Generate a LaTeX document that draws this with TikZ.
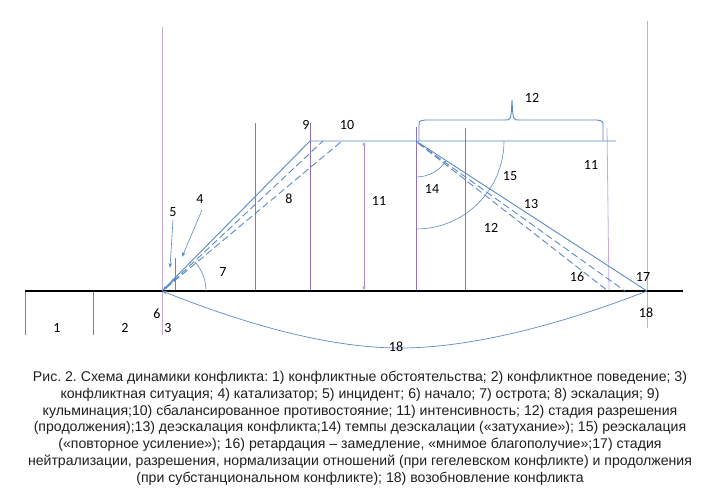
\documentclass[tikz,border=0pt]{standalone}
\usepackage{fontspec}
\setmainfont{Liberation Sans}
\newfontfamily\numfont{Carlito}
\usetikzlibrary{arrows.meta}
\definecolor{lblue}{HTML}{5A8AC6}
\definecolor{lpurp}{HTML}{8F72BC}
\definecolor{llav}{HTML}{C2A9E0}
\frenchspacing
\begin{document}
\begin{tikzpicture}[x=1pt,y=-1pt,
  blueln/.style={draw=lblue,line width=0.9pt},
  bluedash/.style={draw=lblue,line width=0.9pt,dash pattern=on 7pt off 3.5pt},
  purpln/.style={draw=lpurp,line width=0.65pt},
  lavln/.style={draw=llav,line width=0.8pt},
  num/.style={font=\numfont\fontsize{14}{16}\selectfont,text=black,inner sep=0pt},
  captxt/.style={font=\fontsize{14.1}{16}\selectfont,text=black!88,inner sep=0pt},
  tipa/.style={-{Stealth[length=5pt,width=3.5pt]}}
]
\useasboundingbox (0,0) rectangle (705,501);
% key coordinates
\coordinate (O) at (162,291);
\coordinate (A) at (310,141);
\coordinate (P) at (416,141);
\coordinate (E) at (647,291);
\coordinate (Pend) at (616,141);
\coordinate (D1) at (323,141);
\coordinate (D2) at (342,141);
\coordinate (Ds) at (166,288);
\coordinate (Q1) at (625,291);
\coordinate (Q2) at (608,291);
\coordinate (Qs) at (418,143);
% vertical guide lines
\draw[purpln] (25,291) -- (25,335);
\draw[purpln] (93,291) -- (93,335);
\draw[lavln] (162,27) -- (162,335);
\draw[purpln] (175,258) -- (175,291);
\draw[purpln] (255,123) -- (255,291);
\draw[purpln] (310,123) -- (310,291);
\draw[purpln] (416,127) -- (416,291);
\draw[purpln] (465,128) -- (465,291);
\draw[lavln] (607,128) -- (609,291);
\draw[lavln] (647,21) -- (647,328);
% intensity arrow 11
\draw[draw=lpurp!80,line width=0.6pt,{Stealth[length=4pt,width=3pt]}-{Stealth[length=4pt,width=3pt]}] (364,142) -- (364,290);
% baseline
\draw[black,line width=1.8pt] (25,291) -- (683,291);
% rising lines
\draw[blueln] (O) -- (A) -- (Pend);
\draw[bluedash] (Ds) -- (D1);
\draw[bluedash] (Ds) -- (D2);
% falling lines
\draw[blueln] (P) -- (E);
\draw[bluedash] (Qs) -- (Q1);
\draw[bluedash] (Qs) -- (Q2);
% start arrow
\draw[draw=lblue,line width=1.2pt,{Stealth[length=4pt,width=3.5pt]}-{Stealth[length=4pt,width=3.5pt]}] (163,290) -- (176,278);
% arrows 4, 5
\draw[draw=lblue,line width=0.6pt,tipa] (173,220) -- (170,268);
\draw[draw=lblue,line width=0.6pt,tipa] (202,210) -- (182,257);
% angle 7
\draw[draw=lblue,line width=0.6pt] (206,291) arc[start angle=0,end angle=-42,radius=44];
% arcs 14, 15
\draw[draw=lblue,line width=0.6pt] (416,177) arc[start angle=90,end angle=33,radius=36];
\draw[draw=lblue,line width=0.6pt] (416,229) arc[start angle=90,end angle=0,radius=88];
% brace 12
\draw[draw=lblue,line width=0.9pt] (419,141) -- (419,126) .. controls (419,121) .. (425,120)
  -- (505,120) .. controls (511,120) .. (512,100) .. controls (513,120) .. (519,120)
  -- (597,120) .. controls (603,121) .. (603,126) -- (603,141);
% arc 18
\draw[draw=lblue,line width=0.7pt,tipa] (E) .. controls (560,325) and (470,348) .. (400,348)
  .. controls (320,348) and (230,318) .. (O);
% labels
\node[num] (l1) at (57,328) {1};
\node[num] (l2) at (125,328) {2};
\node[num] (l6) at (157,314) {6};
\node[num] (l3) at (168,328) {3};
\node[num] (l5) at (173,212) {5};
\node[num] (l4) at (200,199) {4};
\node[num] (l7) at (223,272) {7};
\node[num] (l8) at (289,199) {8};
\node[num] (l9) at (306,125) {9};
\node[num] (l10) at (347,125) {10};
\node[num] (l11a) at (379,201) {11};
\node[num] (l14) at (432,189) {14};
\node[num] (l15) at (510,176) {15};
\node[num] (l13) at (531,204) {13};
\node[num] (l12a) at (491,228) {12};
\node[num] (l11b) at (591,165) {11};
\node[num] (l12b) at (532,98) {12};
\node[num] (l16) at (577,277) {16};
\node[num] (l17) at (643,277) {17};
\node[num] (l18a) at (646,313) {18};
\node[num] (l18b) at (396,347) {18};
% caption
\node[captxt] (c1) at (360,378) {Рис. 2. Схема динамики конфликта: 1) конфликтные обстоятельства; 2) конфликтное поведение; 3)};
\node[captxt] (c2) at (360,395) {конфликтная ситуация; 4) катализатор; 5) инцидент; 6) начало; 7) острота; 8) эскалация; 9)};
\node[captxt] (c3) at (360,412) {кульминация;10) сбалансированное противостояние; 11) интенсивность; 12) стадия разрешения};
\node[captxt] (c4) at (360,428) {(продолжения);13) деэскалация конфликта;14) темпы деэскалации («затухание»); 15) реэскалация};
\node[captxt] (c5) at (360,445) {(«повторное усиление»); 16) ретардация – замедление, «мнимое благополучие»;17) стадия};
\node[captxt] (c6) at (360,462) {нейтрализации, разрешения, нормализации отношений (при гегелевском конфликте) и продолжения};
\node[captxt] (c7) at (360,479) {(при субстанциональном конфликте); 18) возобновление конфликта};
\end{tikzpicture}
\end{document}
